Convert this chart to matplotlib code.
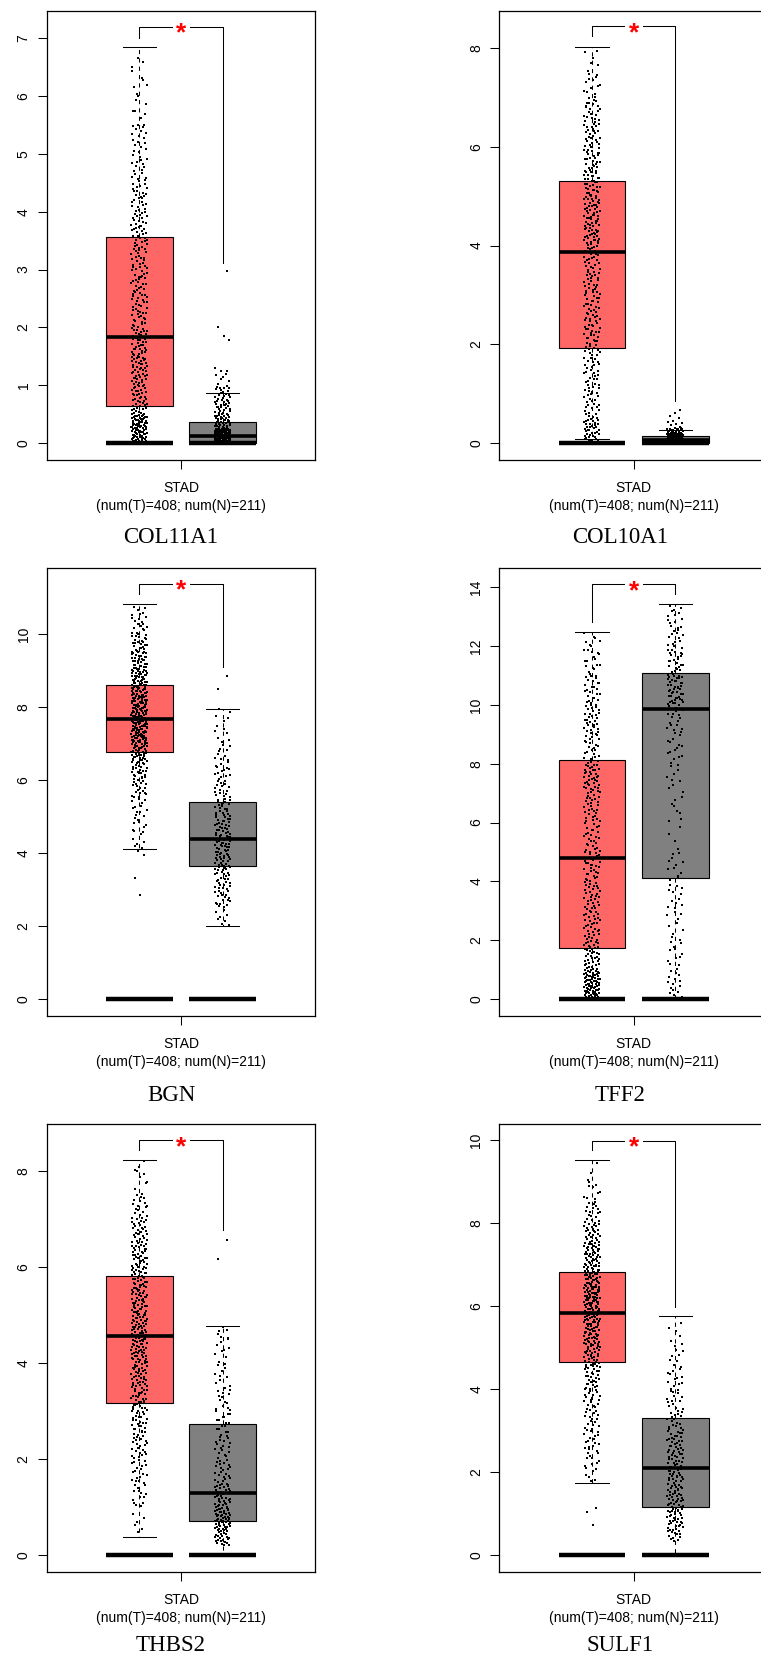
import numpy as np
import matplotlib.pyplot as plt

W, H = 761, 1661
plt.rcParams['font.family'] = ['Liberation Sans', 'DejaVu Sans']

GENES = ["COL11A1", "COL10A1", "BGN", "TFF2", "THBS2", "SULF1"]
YLIMS = [(-0.29, 7.48), (-0.34, 8.76), (-0.46, 11.82),
         (-0.57, 14.68), (-0.34, 8.98), (-0.40, 10.40)]
YTICKS = [range(0, 8, 1), range(0, 9, 2), range(0, 11, 2),
          range(0, 15, 2), range(0, 9, 2), range(0, 11, 2)]

# box stats: whislo, q1, median, q3, whishi
TUMOR_BOX = [(0, 0.636, 1.835, 3.565, 6.85),
             (0.07, 1.92, 3.87, 5.31, 8.03),
             (4.11, 6.76, 7.66, 8.59, 10.82),
             (0, 1.73, 4.80, 8.12, 12.48),
             (0.38, 3.16, 4.57, 5.81, 8.22),
             (1.73, 4.64, 5.84, 6.83, 9.53)]
NORMAL_BOX = [(0, 0.0, 0.11, 0.358, 0.864),
              (0, 0.0, 0.05, 0.13, 0.27),
              (2.0, 3.65, 4.37, 5.39, 7.95),
              (0, 4.13, 9.86, 11.08, 13.44),
              (0, 0.72, 1.30, 2.73, 4.77),
              (0, 1.16, 2.09, 3.29, 5.76)]

# point density: bin edges and number of dots per bin
TUMOR_EDGES = [
    [0, .5, 1, 1.5, 2, 2.5, 3, 3.5, 4, 4.5, 5, 5.5, 6, 6.5, 6.8],
    [0, .5, 1, 1.5, 2, 2.5, 3, 3.5, 4, 4.5, 5, 5.5, 6, 6.5, 7, 7.5, 8],
    [4, 4.5, 5, 5.5, 6, 6.5, 7, 7.5, 8, 8.5, 9, 9.5, 10, 10.5, 10.8],
    [0, 1, 2, 3, 4, 5, 6, 7, 8, 9, 10, 11, 12, 12.5],
    [.4, 1, 1.5, 2, 2.5, 3, 3.5, 4, 4.5, 5, 5.5, 6, 6.5, 7, 7.5, 8, 8.22],
    [1.75, 2, 2.5, 3, 3.5, 4, 4.5, 5, 5.5, 6, 6.5, 7, 7.5, 8, 8.5, 9, 9.5]]
TUMOR_COUNTS = [
    [85, 40, 45, 40, 30, 30, 30, 30, 25, 18, 17, 9, 6, 3],
    [40, 22, 22, 22, 26, 26, 26, 26, 36, 36, 32, 28, 25, 22, 13, 6],
    [6, 10, 12, 18, 26, 40, 55, 55, 50, 45, 35, 25, 14, 6],
    [78, 40, 32, 32, 30, 26, 28, 40, 24, 30, 24, 18, 6],
    [6, 14, 18, 22, 26, 32, 36, 42, 44, 40, 38, 34, 28, 18, 7, 3],
    [4, 12, 16, 16, 20, 24, 34, 40, 46, 52, 44, 38, 28, 18, 10, 3]]
TUMOR_EXTRA = [[], [], [3.93, 3.31, 2.84], [], [], [1.14, 1.03, 0.72]]

NORMAL_EDGES = [
    [0, .25, .5, .75, 1.0, 1.25],
    [0, .1, .2, .3],
    [2, 2.5, 3, 3.5, 4, 4.5, 5, 5.5, 6, 6.5, 7, 7.5, 8],
    [0, 1, 2, 3, 4, 5, 6, 7, 8, 9, 10, 11, 12, 13, 13.45],
    [.2, .5, 1, 1.5, 2, 2.5, 3, 3.5, 4, 4.5, 4.77],
    [.3, .5, 1, 1.5, 2, 2.5, 3, 3.5, 4, 4.5, 5, 5.5, 5.76]]
NORMAL_COUNTS = [
    [120, 35, 25, 18, 6],
    [120, 60, 21],
    [8, 18, 22, 28, 30, 26, 22, 16, 14, 10, 7, 5],
    [16, 12, 10, 12, 12, 4, 8, 10, 14, 18, 42, 28, 18, 7],
    [22, 54, 38, 22, 18, 16, 14, 10, 9, 6],
    [6, 30, 34, 28, 28, 26, 18, 14, 12, 8, 6, 1]]
NORMAL_EXTRA = [[2.97, 2.0, 1.85, 1.78, 1.30, 1.24, 1.20],
                [0.33, 0.36, 0.38, 0.40, 0.42, 0.45, 0.50, 0.55, 0.60, 0.67],
                [8.85, 8.49], [], [6.55, 6.16], []]

# significance bracket: top, left leg end, right leg end
BRACKETS = [(7.2, 7.01, 3.12), (8.44, 8.25, 0.85), (11.37, 11.09, 9.10),
            (14.11, 12.82, 13.79), (8.63, 8.43, 6.76), (9.99, 9.76, 5.98)]

XLABEL1 = "STAD"
XLABEL2 = "(num(T)=408; num(N)=211)"
RED = "#FF6666"
GREY = "#808080"

# layout in pixels
ROW_TOP = [10.7, 567.5, 1123.6]
ROW_BOT = [459.6, 1015.7, 1571.5]
COL_LEFT = [46.7, 499.3]
AX_W = 268.6
TITLE_Y = [535.7, 1093.6, 1643.3]
TITLE_X = [171, 620]
POS = [0.345, 0.655]
BOXW = 0.248
JIT = 0.03


def halton(i, b):
    f, r = 1.0, 0.0
    while i > 0:
        f /= b
        r += f * (i % b)
        i //= b
    return r


def strip_points(edges, counts, extra, xc):
    xs, ys = [], []
    for j, c in enumerate(counts):
        lo, hi = edges[j], edges[j + 1]
        for k in range(c):
            n = k + 1 + 11 * j
            ys.append(lo + (hi - lo) * halton(n, 2))
            xs.append(xc + JIT * (2 * halton(n, 3) - 1))
    for k, v in enumerate(extra):
        ys.append(v)
        xs.append(xc + JIT * (2 * halton(k + 5, 3) - 1))
    return xs, ys


fig = plt.figure(figsize=(W / 100, H / 100), dpi=100)

for i, gene in enumerate(GENES):
    row, col = divmod(i, 2)
    left = COL_LEFT[col]
    ax = fig.add_axes([left / W, 1 - ROW_BOT[row] / H, AX_W / W,
                       (ROW_BOT[row] - ROW_TOP[row]) / H])
    ax.set_xlim(0, 1)
    ax.set_ylim(*YLIMS[i])

    stats = []
    for b in (TUMOR_BOX[i], NORMAL_BOX[i]):
        stats.append(dict(whislo=b[0], q1=b[1], med=b[2], q3=b[3], whishi=b[4]))
    bp = ax.bxp(stats, positions=POS, widths=BOXW, patch_artist=True,
                showfliers=False, capwidths=BOXW / 2,
                boxprops=dict(linewidth=0.8, edgecolor='black'),
                medianprops=dict(color='black', linewidth=2.6, solid_capstyle='butt'),
                whiskerprops=dict(color='black', linewidth=0.75, linestyle=(0, (4, 4))),
                capprops=dict(color='black', linewidth=0.75))
    for patch, fc in zip(bp['boxes'], [RED, GREY]):
        patch.set_facecolor(fc)

    # zero bars
    for p in POS:
        ax.plot([p - BOXW / 2, p + BOXW / 2], [0, 0], color='black', lw=3.2,
                solid_capstyle='butt', zorder=3)

    for edges, counts, extra, p in ((TUMOR_EDGES[i], TUMOR_COUNTS[i], TUMOR_EXTRA[i], POS[0]),
                                    (NORMAL_EDGES[i], NORMAL_COUNTS[i], NORMAL_EXTRA[i], POS[1])):
        xs, ys = strip_points(edges, counts, extra, p)
        ax.scatter(xs, ys, s=1.0, marker='s', color='black', linewidths=0, zorder=4)

    top, lend, rend = BRACKETS[i]
    gap = 0.035
    ax.plot([POS[0], POS[0], 0.5 - gap], [lend, top, top], color='black', lw=0.75, zorder=5)
    ax.plot([0.5 + gap, POS[1], POS[1]], [top, top, rend], color='black', lw=0.75, zorder=5)
    ax.annotate("*", xy=(0.5, top), xytext=(0, -9.8), textcoords='offset points',
                color='red', fontsize=19, fontweight='bold', ha='center',
                va='baseline', zorder=6)

    ax.set_yticks(list(YTICKS[i]))
    ax.set_xticks([0.5])
    ax.set_xticklabels([])
    ax.tick_params(axis='both', direction='out', length=6.5, width=0.75,
                   labelsize=10, pad=5)
    for lab in ax.get_yticklabels():
        lab.set_rotation(90)
        lab.set_va('center')
    for sp in ax.spines.values():
        sp.set_linewidth(0.9)

    tick_x = left + AX_W * 0.5
    fig.text(tick_x / W, 1 - (ROW_BOT[row] + 32.3) / H, XLABEL1, fontsize=10,
             ha='center', va='baseline')
    fig.text(tick_x / W, 1 - (ROW_BOT[row] + 50.5) / H, XLABEL2, fontsize=10,
             ha='center', va='baseline')
    fig.text(TITLE_X[col] / W, 1 - (TITLE_Y[row] + 7.5) / H, gene, fontsize=16.5,
             family=['Liberation Serif', 'DejaVu Serif'], ha='center', va='baseline')

fig.savefig("out.png", dpi=100)
